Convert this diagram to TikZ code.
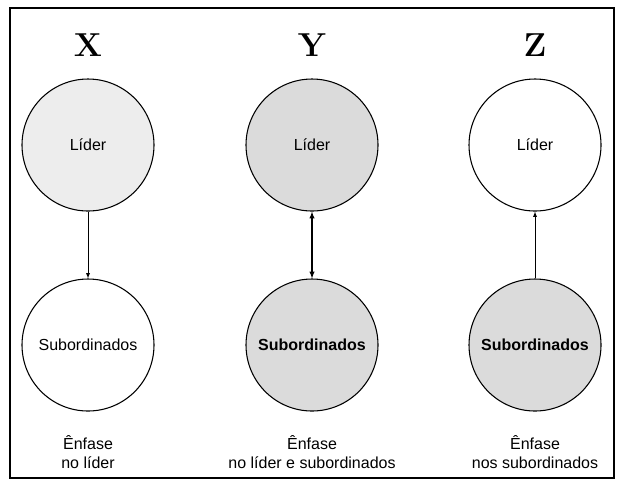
\documentclass[tikz,border=0pt]{standalone}
\usepackage{fontspec}
\setsansfont{Liberation Sans}
\begin{document}
\begin{tikzpicture}[x=0.75pt,y=-0.75pt]
  % colors
  \definecolor{kShade}{rgb}{0.86,0.86,0.86}
  \definecolor{kLight}{rgb}{0.93,0.93,0.93}
  \tikzset{pers/.style={draw,thick,circle,minimum size=132*0.75pt,font=\sffamily\large},
           lbl/.style={font=\bfseries\Huge},
           note/.style={font=\sffamily\large,align=center}}
  \useasboundingbox (0,0) rectangle (623,487);
  % frame
  \draw[thick] (10,8) rectangle (614,478);
  % columns
  \node[lbl] (tx) at (88,45) {X};
  \node[lbl] (ty) at (312,45) {Y};
  \node[lbl] (tz) at (535,45) {Z};
  \node[pers,fill=kLight] (lx) at (88,145) {Líder};
  \node[pers] (sx) at (88,345) {Subordinados};
  \node[pers,fill=kShade] (ly) at (312,145) {Líder};
  \node[pers,fill=kShade,font=\sffamily\large\bfseries] (sy) at (312,345) {Subordinados};
  \node[pers] (lz) at (535,145) {Líder};
  \node[pers,fill=kShade,font=\sffamily\large\bfseries] (sz) at (535,345) {Subordinados};
  \draw[-latex] (lx) -- (sx);
  \draw[latex-latex,thick] (ly) -- (sy);
  \draw[-latex] (sz) -- (lz);
  \node[note] (nx) at (88,452) {Ênfase\\no líder};
  \node[note] (ny) at (312,452) {Ênfase\\no líder e subordinados};
  \node[note] (nz) at (535,452) {Ênfase\\nos subordinados};
\end{tikzpicture}
\end{document}
